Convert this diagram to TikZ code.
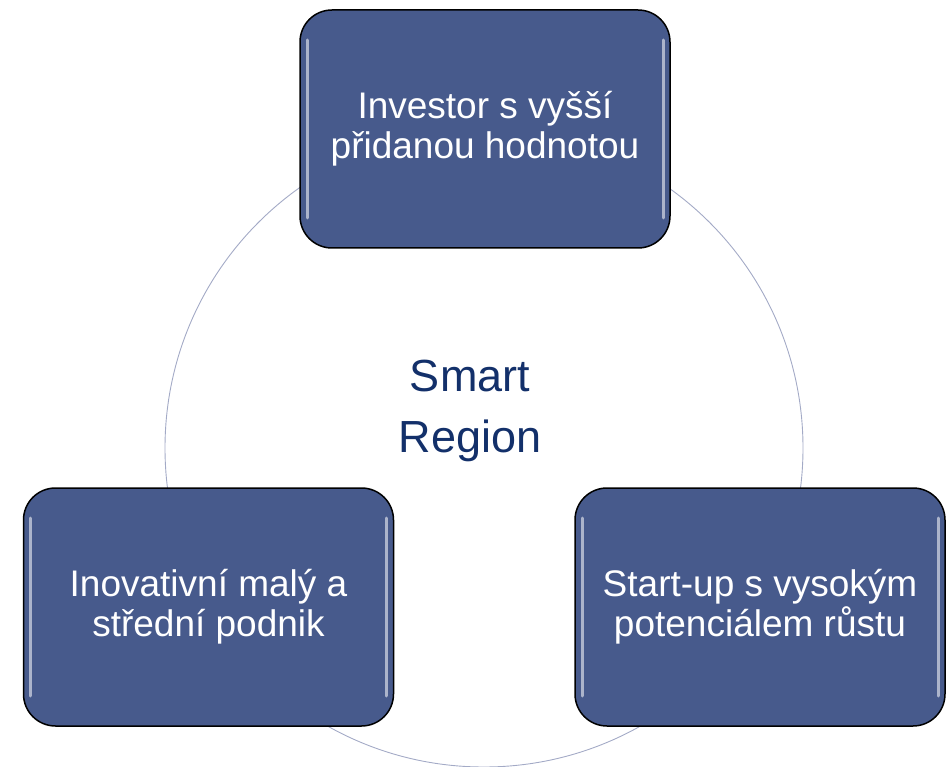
\documentclass[tikz,border=0pt]{standalone}
\usepackage{fontspec}
\setmainfont{Liberation Sans}
\definecolor{boxblue}{HTML}{475A8C}
\definecolor{ringgray}{HTML}{A3AAC6}
\definecolor{titlenavy}{HTML}{13306A}
\begin{document}
\begin{tikzpicture}[x=1pt, y=-1pt,
		gloss/.style={white, opacity=0.55, line width=3pt, line cap=round},
		regionbox/.style={draw=black, line width=1.5pt, fill=boxblue, rounded corners=32pt,
			minimum width=370pt, minimum height=238pt, text=white, align=center,
			font=\fontsize{37}{40}\selectfont,
			path picture={
				\draw[gloss] ([xshift=7pt, yshift=-30pt]path picture bounding box.north west) -- ([xshift=7pt, yshift=30pt]path picture bounding box.south west);
				\draw[gloss] ([xshift=-7pt, yshift=-30pt]path picture bounding box.north east) -- ([xshift=-7pt, yshift=30pt]path picture bounding box.south east);
		}}]
		\useasboundingbox (0,0) rectangle (951,767);
		
		% anello
		\node[draw=ringgray, line width=0.9pt, circle, minimum size=638pt, inner sep=0pt] (ring) at (484,448) {};
		
		% titolo
		\node[text=titlenavy, align=center, font=\fontsize{45}{61}\selectfont] (title) at (470,411) {Smart\\Region};
		
		% tre riquadri
		\node[regionbox] (investor) at (485,129) {Investor s vyšší\\přidanou hodnotou};
		\node[regionbox] (msp) at (208.5,607) {Inovativní malý a\\střední podnik};
		\node[regionbox] (startup) at (760,607) {Start-up s vysokým\\potenciálem růstu};
		
	\end{tikzpicture}
\end{document}
